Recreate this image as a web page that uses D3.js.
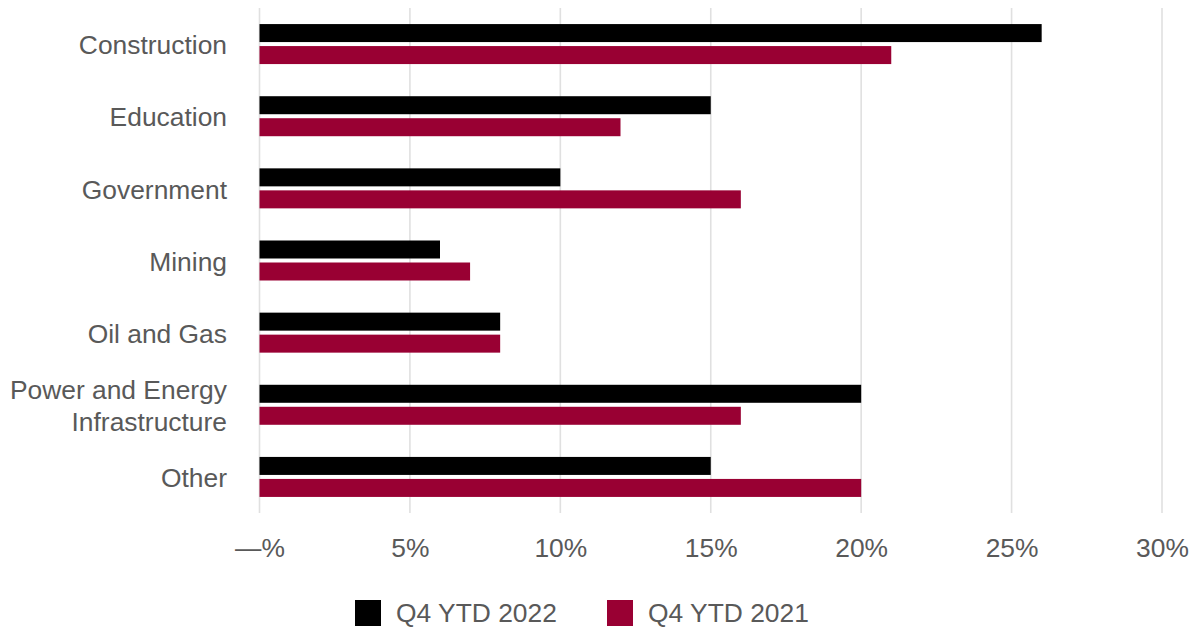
<!DOCTYPE html>
<html>
<head>
<meta charset="utf-8">
<script src="https://cdn.jsdelivr.net/npm/d3@7"></script>
<style>
  html, body { margin: 0; padding: 0; background: #fff; }
  svg { display: block; font-family: "Liberation Sans", Arial, sans-serif; }
</style>
</head>
<body>
<svg id="chart" width="1195" height="628"></svg>
<script>
// Sector share, year-to-date through Q4
const categories = ["Construction", "Education", "Government", "Mining", "Oil and Gas", "Power and Energy Infrastructure", "Other"];
const categoryLines = [["Construction"], ["Education"], ["Government"], ["Mining"], ["Oil and Gas"], ["Power and Energy", "Infrastructure"], ["Other"]];
const seriesNames = ["Q4 YTD 2022", "Q4 YTD 2021"];
const values2022 = [26, 15, 10, 6, 8, 20, 15];
const values2021 = [21, 12, 16, 7, 8, 16, 20];
const xTicks = [0, 5, 10, 15, 20, 25, 30];
const xTickLabels = ["—%", "5%", "10%", "15%", "20%", "25%", "30%"];
const colors = ["#000000", "#990033"];

const svg = d3.select("#chart");
const textColor = "#595959";
const fontSize = 26.4;

const x = d3.scaleLinear().domain([0, 30]).range([259.5, 1162]);
const y = d3.scaleBand().domain(categories).range([8, 513]).paddingInner(0).paddingOuter(0);
const barH = 18, barGap = 4;
const yInner = d3.scaleBand().domain(seriesNames).range([-(barH + barGap / 2), barH + barGap / 2]).paddingInner(barGap / (barH + barGap)).paddingOuter(0);

// Vertical gridlines
svg.append("g").selectAll("line").data(xTicks).join("line")
  .attr("x1", d => x(d)).attr("x2", d => x(d))
  .attr("y1", 8).attr("y2", 513)
  .attr("stroke", "#e0e0e0").attr("stroke-width", 1.6);

// X axis labels
const xAxis = d3.axisBottom(x).tickValues(xTicks).tickFormat((d, i) => xTickLabels[i]).tickSize(0).tickPadding(0);
const gx = svg.append("g").attr("transform", "translate(0,538)").call(xAxis);
gx.select(".domain").remove();
gx.selectAll("text")
  .attr("fill", textColor).attr("font-size", fontSize)
  .attr("font-family", "'Liberation Sans', Arial, sans-serif")
  .attr("dy", "0.71em").attr("y", 0);

// Bars
const data = categories.map((c, i) => ({ c, v: [values2022[i], values2021[i]] }));
const groups = svg.append("g").selectAll("g").data(data).join("g")
  .attr("transform", d => `translate(0,${y(d.c) + y.bandwidth() / 2})`);
groups.selectAll("rect").data(d => d.v.map((v, j) => ({ v, s: seriesNames[j], j }))).join("rect")
  .attr("x", x(0))
  .attr("y", d => yInner(d.s))
  .attr("width", d => x(d.v) - x(0))
  .attr("height", yInner.bandwidth())
  .attr("fill", d => colors[d.j]);

// Category labels
const lineH = 32;
svg.append("g").selectAll("text").data(categories).join("text")
  .attr("x", 227)
  .attr("text-anchor", "end")
  .attr("fill", textColor).attr("font-size", fontSize)
  .each(function (d, i) {
    const lines = categoryLines[i];
    const t = d3.select(this);
    const top = y(d) + y.bandwidth() / 2 - (lines.length - 1) * lineH / 2 + 1;
    lines.forEach((ln, k) => {
      t.append("tspan")
        .attr("x", 227)
        .attr("y", top + k * lineH)
        .attr("dy", "0.35em")
        .text(ln);
    });
  });

// Legend
const legendItems = [{ name: seriesNames[0], x: 355 }, { name: seriesNames[1], x: 607 }];
const lg = svg.append("g").selectAll("g").data(legendItems).join("g")
  .attr("transform", d => `translate(${d.x},600)`);
lg.append("rect").attr("width", 26).attr("height", 26).attr("fill", (d, i) => colors[i]);
lg.append("text").attr("x", 41).attr("y", 13).attr("dy", "0.35em")
  .attr("fill", textColor).attr("font-size", fontSize).text(d => d.name);
</script>
</body>
</html>
